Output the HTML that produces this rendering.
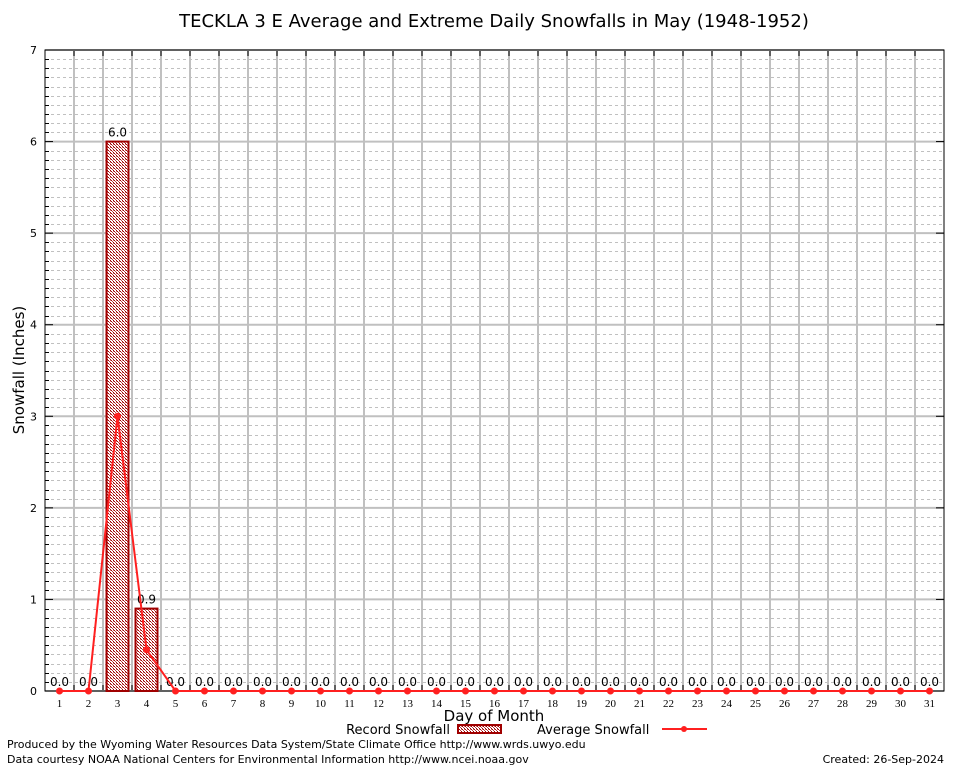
<!DOCTYPE html>
<html><head><meta charset="utf-8"><style>
body{margin:0;background:#fff;}
svg{display:block;font-family:"DejaVu Sans","Liberation Sans",sans-serif;}
</style></head><body>
<svg id="chart" width="954" height="768" viewBox="0 0 954 768">
<defs>
<pattern id="hatch" width="3" height="3" patternUnits="userSpaceOnUse">
<rect width="3" height="3" fill="#fff"/>
<rect width="1" height="1" fill="#a00000"/><rect x="1" y="1" width="1" height="1" fill="#c04040"/><rect x="2" y="2" width="1" height="1" fill="#a00000"/><rect x="2" y="0" width="1" height="1" fill="#d08080"/>
</pattern>
</defs>
<rect width="954" height="768" fill="#fff"/>
<text x="494" y="27" font-size="18" text-anchor="middle">TECKLA 3 E Average and Extreme Daily Snowfalls in May (1948-1952)</text>
<g id="grid"></g>
<g id="marks"></g>
<text transform="translate(24,370) rotate(-90)" font-size="15" text-anchor="middle">Snowfall (Inches)</text>
<text x="494" y="721" font-size="15" text-anchor="middle">Day of Month</text>
<g>
<text x="450" y="734" font-size="13" text-anchor="end">Record Snowfall</text>
<rect x="458" y="725" width="43" height="8" fill="url(#hatch)" stroke="#a00000" stroke-width="2"/>
<text x="537" y="734" font-size="13">Average Snowfall</text>
<line x1="662" y1="729" x2="707" y2="729" stroke="#ff2020" stroke-width="2"/>
<circle cx="684" cy="729" r="3" fill="#ff2020"/>
</g>
<text x="7" y="748" font-size="11">Produced by the Wyoming Water Resources Data System/State Climate Office http://www.wrds.uwyo.edu</text>
<text x="7" y="763" font-size="11">Data courtesy NOAA National Centers for Environmental Information http://www.ncei.noaa.gov</text>
<text x="944" y="763" font-size="11" text-anchor="end">Created:  26-Sep-2024</text>
</svg>
<script>
const days=[1,2,3,4,5,6,7,8,9,10,11,12,13,14,15,16,17,18,19,20,21,22,23,24,25,26,27,28,29,30,31];
const recordSnow=[0,0,6.0,0.9,0,0,0,0,0,0,0,0,0,0,0,0,0,0,0,0,0,0,0,0,0,0,0,0,0,0,0];
const avgSnow=[0,0,3.0,0.45,0,0,0,0,0,0,0,0,0,0,0,0,0,0,0,0,0,0,0,0,0,0,0,0,0,0,0];
const yTicks=[0,1,2,3,4,5,6,7];
const NS='http://www.w3.org/2000/svg';
const L=45,R=944,T=50,B=691,slot=(R-L)/31;
const x=d=>L+(d-0.5)*slot;
const y=v=>B-v*(B-T)/7;
function mk(tag,attrs,parent){const e=document.createElementNS(NS,tag);for(const k in attrs)e.setAttribute(k,attrs[k]);parent.appendChild(e);return e;}
const g=document.getElementById('grid'),m=document.getElementById('marks');
for(let k=1;k<70;k++){if(k%10===0)continue;const v=k/10;const yy=Math.round(y(v))+0.5;const l=mk('line',{x1:L,x2:R,y1:yy,y2:yy,stroke:'#c0c0c0','stroke-dasharray':'3,3','stroke-width':1},g);


mk('line',{x1:L,x2:L+4,y1:yy,y2:yy,stroke:'#000'},g);}
for(let i=1;i<31;i++){const xx=Math.round(L+i*slot);const l=mk('line',{x1:xx,x2:xx,y1:T,y2:B,stroke:'#c0c0c0','stroke-width':2},g);


mk('line',{x1:xx,x2:xx,y1:T,y2:T+6,stroke:'#000','stroke-width':1},g);
mk('line',{x1:xx,x2:xx,y1:B-6,y2:B,stroke:'#000','stroke-width':1},g);}
yTicks.forEach(v=>{const l=mk('line',{x1:L,x2:R,y1:y(v),y2:y(v),stroke:'#c0c0c0','stroke-width':2},g);


const t=mk('text',{x:L-8,y:y(v)+4,'font-size':11,'text-anchor':'end'},g);t.textContent=v;


mk('line',{x1:L,x2:L+8,y1:y(v),y2:y(v),stroke:'#000'},g);mk('line',{x1:R-8,x2:R,y1:y(v),y2:y(v),stroke:'#000'},g);});
const fr=mk('rect',{x:L,y:T,width:R-L,height:B-T,fill:'none',stroke:'#000','stroke-width':1},g);


days.forEach((d,i)=>{const t=mk('text',{x:x(d),y:B+16,'font-size':11,'text-anchor':'middle','font-family':'Liberation Serif,serif'},g);t.textContent=d;


const v=recordSnow[i];
if(v>0){const b=mk('rect',{x:x(d)-11,y:y(v),width:22,height:B-y(v),fill:'url(#hatch)',stroke:'#a00000','stroke-width':2},m);

}
const lb=mk('text',{x:x(d),y:y(v)-5,'font-size':12,'text-anchor':'middle'},m);lb.textContent=v.toFixed(1);

});
const pts=days.map((d,i)=>x(d)+','+y(avgSnow[i])).join(' ');
const pl=mk('polyline',{points:pts,fill:'none',stroke:'#ff2020','stroke-width':2},m);


days.forEach((d,i)=>{const c=mk('circle',{cx:x(d),cy:y(avgSnow[i]),r:3.5,fill:'#ff2020'},m);

});
</script>
</body></html>
